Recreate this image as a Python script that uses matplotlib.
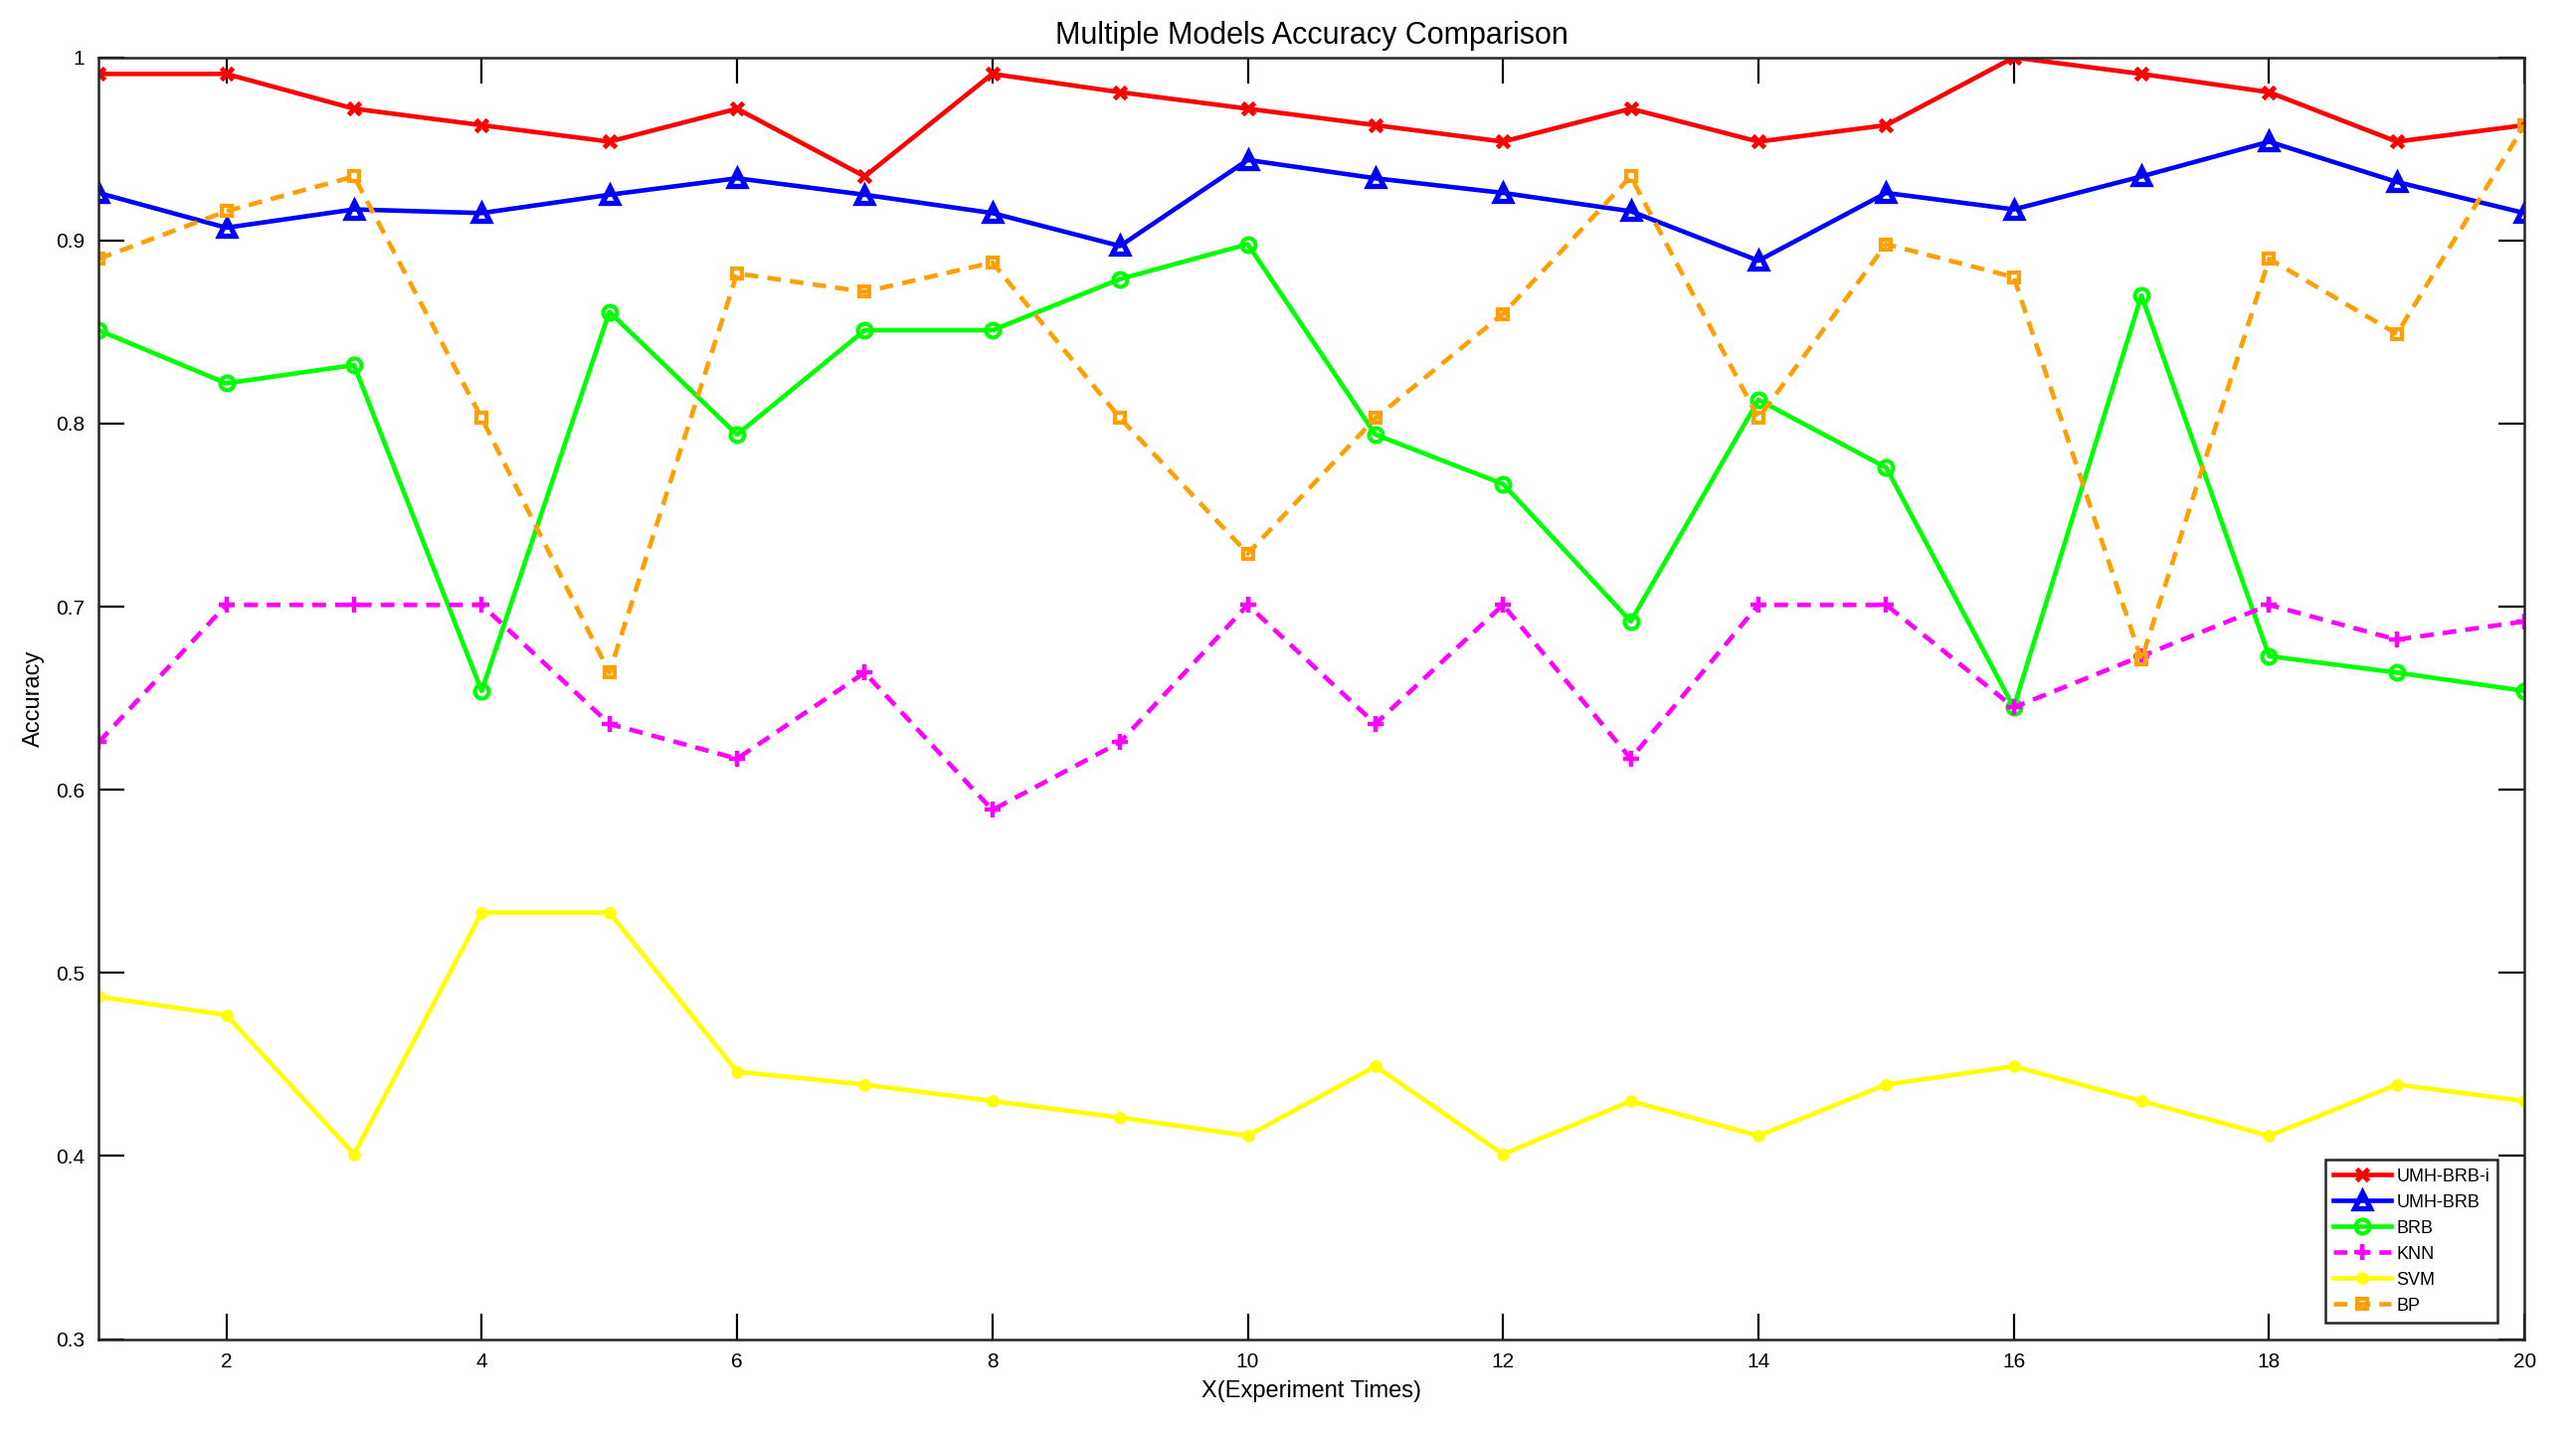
import matplotlib
matplotlib.use("Agg")
import matplotlib.pyplot as plt
from matplotlib.ticker import FuncFormatter

plt.rcParams['font.family'] = ['Liberation Sans', 'DejaVu Sans']

# experiment index
runs = list(range(1, 21))

# accuracy of each model per experiment
umh_brb_i = [0.991, 0.991, 0.972, 0.963, 0.954, 0.972, 0.935, 0.991, 0.981, 0.972,
             0.963, 0.954, 0.972, 0.954, 0.963, 1.000, 0.991, 0.981, 0.954, 0.963]
umh_brb = [0.926, 0.907, 0.917, 0.915, 0.925, 0.934, 0.925, 0.915, 0.897, 0.944,
           0.934, 0.926, 0.916, 0.889, 0.926, 0.917, 0.935, 0.954, 0.932, 0.915]
brb = [0.851, 0.822, 0.832, 0.654, 0.861, 0.794, 0.851, 0.851, 0.879, 0.898,
       0.794, 0.767, 0.692, 0.813, 0.776, 0.645, 0.870, 0.673, 0.664, 0.654]
knn = [0.626, 0.701, 0.701, 0.701, 0.636, 0.617, 0.664, 0.589, 0.626, 0.701,
       0.636, 0.701, 0.617, 0.701, 0.701, 0.645, 0.673, 0.701, 0.682, 0.692]
svm = [0.487, 0.477, 0.401, 0.533, 0.533, 0.446, 0.439, 0.430, 0.421, 0.411,
       0.449, 0.401, 0.430, 0.411, 0.439, 0.449, 0.430, 0.411, 0.439, 0.430]
bp = [0.890, 0.916, 0.935, 0.803, 0.664, 0.882, 0.872, 0.888, 0.803, 0.729,
      0.803, 0.860, 0.935, 0.803, 0.898, 0.880, 0.671, 0.890, 0.849, 0.963]

labels = ['UMH-BRB-i', 'UMH-BRB', 'BRB', 'KNN', 'SVM', 'BP']
orange = '#FF9F00'

fig = plt.figure(figsize=(25.9, 14.44), dpi=100)
ax = fig.add_axes([0.0383, 0.0675, 0.9417, 0.8925])

lw = 3.3
ax.plot(runs, umh_brb_i, '-', color='red', lw=lw, marker='x', ms=8, mew=3.5, label=labels[0])
ax.plot(runs, umh_brb, '-', color='blue', lw=lw, marker='^', ms=11, mew=3.8,
        mfc='none', label=labels[1])
ax.plot(runs, brb, '-', color='#00FF00', lw=lw, marker='o', ms=10, mew=3,
        mfc='none', label=labels[2])
ax.plot(runs, knn, '--', color='magenta', lw=lw, marker='+', ms=11, mew=3.2,
        dashes=(3, 2), label=labels[3])
ax.plot(runs, svm, '-', color='#FFFF00', lw=lw, marker='o', ms=8, mew=1,
        label=labels[4])
ax.plot(runs, bp, '--', color=orange, lw=lw, marker='s', ms=7, mew=3,
        mfc='none', dashes=(3, 2), label=labels[5])

ax.set_xlim(1, 20)
ax.set_ylim(0.3, 1.0)
ax.set_xticks(range(2, 21, 2))
ax.set_yticks([0.3, 0.4, 0.5, 0.6, 0.7, 0.8, 0.9, 1.0])
ax.yaxis.set_major_formatter(FuncFormatter(lambda v, p: f'{v:g}'))

ax.tick_params(direction='in', length=19, width=1.6, labelsize=15,
               top=True, right=True, pad=10)
for s in ax.spines.values():
    s.set_linewidth(1.8)
    s.set_color('#262626')

ax.set_title('Multiple Models Accuracy Comparison', fontsize=22, pad=10)
ax.set_xlabel('X(Experiment Times)', fontsize=17, labelpad=6)
ax.set_ylabel('Accuracy', fontsize=17, labelpad=8)

leg = ax.legend(loc='lower right', bbox_to_anchor=(0.989, 0.013), borderaxespad=0,
                fontsize=13, handlelength=3.2, labelspacing=0.5, fancybox=False,
                framealpha=1, edgecolor='#262626', borderpad=0.45,
                handletextpad=0.3)
leg.get_frame().set_linewidth(1.8)

fig.savefig('out.png', dpi=100)
